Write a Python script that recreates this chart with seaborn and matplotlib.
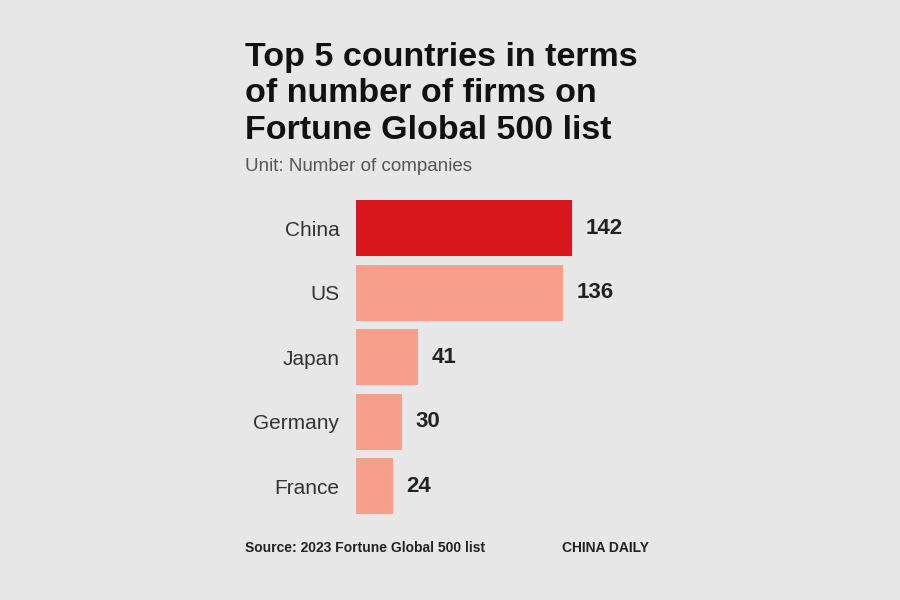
import matplotlib
matplotlib.use("Agg")
import matplotlib.pyplot as plt
import seaborn as sns
import pandas as pd

countries = ["China", "US", "Japan", "Germany", "France"]
companies = [142, 136, 41, 30, 24]
bar_colors = ["#d7161e", "#f6a08b", "#f6a08b", "#f6a08b", "#f6a08b"]

title = "Top 5 countries in terms\nof number of firms on\nFortune Global 500 list"
subtitle = "Unit: Number of companies"
source = "Source: 2023 Fortune Global 500 list"
brand = "CHINA DAILY"

df = pd.DataFrame({"country": countries, "companies": companies})

sns.set_theme(style="white")
plt.rcParams['font.family'] = ['Liberation Sans', 'DejaVu Sans']

bg = "#e7e7e7"
fig = plt.figure(figsize=(9, 6), dpi=100, facecolor=bg)
ax = fig.add_axes([0.3956, 0.136, 0.3378, 0.5375])
ax.set_facecolor(bg)

sns.barplot(data=df, x="companies", y="country", hue="country",
            palette=dict(zip(countries, bar_colors)), legend=False,
            width=0.87, ax=ax, saturation=1, linewidth=0)

ax.set_xlim(0, 200)
ax.set_ylim(4.5, -0.5)
for s in ax.spines.values():
    s.set_visible(False)
ax.set_xticks([])
ax.set_xlabel("")
ax.set_ylabel("")
ax.tick_params(axis="y", length=0, pad=12, labelsize=15, labelcolor="#333333")

for i, v in enumerate(companies):
    ax.text(v + 9, i, str(v), va="center", ha="left", fontsize=16,
            fontweight="bold", color="#222222")

fig.text(0.272, 0.93, title, ha="left", va="top", fontsize=24.5, fontweight="bold",
         color="#111111", linespacing=1.22)
fig.text(0.272, 0.722, subtitle, ha="left", va="center", fontsize=13.5,
         color="#555555")
fig.text(0.272, 0.087, source, ha="left", va="center", fontsize=10,
         color="#222222", fontweight="bold")
fig.text(0.625, 0.087, brand, ha="left", va="center", fontsize=10,
         color="#222222", fontweight="bold")

fig.savefig("out.png", dpi=100, facecolor=bg)
